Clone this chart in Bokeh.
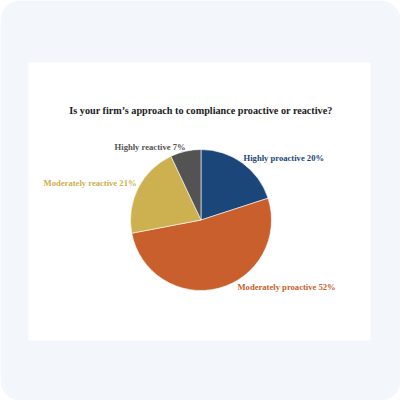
import math
from bokeh.plotting import figure
from bokeh.models import BoxAnnotation, ColumnDataSource, Label
from bokeh.embed import file_html
from bokeh.resources import INLINE

# ---- data ----
categories = ["Highly proactive", "Moderately proactive", "Moderately reactive", "Highly reactive"]
values = [20, 52, 21, 7]
colors = ["#1b4679", "#c85f2d", "#cdb04f", "#535353"]
title_text = "Is your firm\u2019s approach to compliance proactive or reactive?"

# ---- layout / style ----
W = H = 400
CX, CY, R = 200.5, 180.5, 70.5
LABEL_R = 80
nudge_x = [-4.5, 16.6, 6.8, 2.0]
nudge_y = [-3.2, 10.0, 0.2, -4.6]

p = figure(width=W, height=H, x_range=(0, W), y_range=(0, H),
           output_backend="svg", toolbar_location=None, min_border=0,
           outline_line_color=None)
p.axis.visible = False
p.grid.visible = False
p.background_fill_color = "white"
p.border_fill_color = "white"

p.add_layout(BoxAnnotation(left=0, right=W, bottom=0, top=H, fill_color="#f3f6fb",
                           fill_alpha=1, line_color=None, border_radius=20, level="underlay"))
p.add_layout(BoxAnnotation(left=28, right=370, bottom=60, top=338, fill_color="white",
                           fill_alpha=1, line_color=None, level="underlay"))

total = float(sum(values))
starts, ends, mids = [], [], []
cum = 0.0
for v in values:
    s = math.pi / 2 - 2 * math.pi * cum / total
    cum += v
    e = math.pi / 2 - 2 * math.pi * cum / total
    starts.append(s)
    ends.append(e)
    mids.append((s + e) / 2)

src = ColumnDataSource(dict(cat=categories, val=values, color=colors,
                            start=starts, end=ends))
p.wedge(x=CX, y=CY, radius=R, start_angle="start", end_angle="end",
        direction="clock", fill_color="color", line_color="white",
        line_width=0.6, source=src)

for i, (c, v, col, m) in enumerate(zip(categories, values, colors, mids)):
    lx = CX + LABEL_R * math.cos(m) + nudge_x[i]
    ly = CY + LABEL_R * math.sin(m) + nudge_y[i]
    align = "left" if math.cos(m) > 0 else "right"
    p.add_layout(Label(x=lx, y=ly, text=f"{c} {v}%", text_align=align,
                       text_baseline="middle", text_font="Liberation Serif",
                       text_font_style="bold", text_font_size="8.6px",
                       text_color=col))

p.add_layout(Label(x=200.5, y=290, text=title_text, text_align="center",
                   text_baseline="middle", text_font="Liberation Serif",
                   text_font_style="bold", text_font_size="10.2px",
                   text_color="#1a1a1a"))

open("out.html", "w").write(file_html(p, INLINE))
